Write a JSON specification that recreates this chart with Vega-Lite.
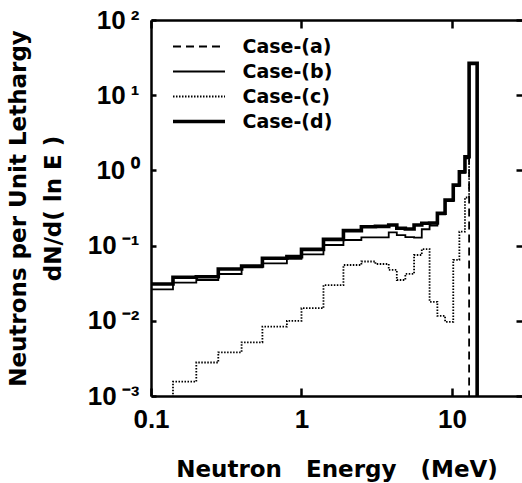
{
  "$schema": "https://vega.github.io/schema/vega-lite/v6.json",
  "autosize": "none",
  "padding": {"left": 151, "top": 20, "right": 0, "bottom": 87},
  "width": 371,
  "height": 376,
  "config": {
    "view": {"stroke": null},
    "axis": {"grid": false, "labelFlush": false, "domainColor": "black", "tickColor": "black", "domainWidth": 2.5, "tickWidth": 2.5, "labelColor": "black", "titleColor": "black"},
    "legend": {"orient": "none", "legendX": 38.5, "legendY": 17, "padding": 0, "symbolType": "M-4,0L4,0", "symbolSize": 169, "symbolStrokeColor": "black", "labelOffset": 34, "labelFont": "DejaVu Sans", "labelFontWeight": "bold", "labelFontSize": 19, "labelColor": "black", "rowPadding": 5, "title": null}
  },
  "datasets": {
    "spec": [
      {"case": "Case-(a)", "E": 12.0, "v": 0.0001},
      {"case": "Case-(a)", "E": 13.0, "v": 26.5},
      {"case": "Case-(a)", "E": 14.7, "v": 0.0001},
      {"case": "Case-(b)", "E": 0.1, "v": 0.0262},
      {"case": "Case-(b)", "E": 0.14, "v": 0.0321},
      {"case": "Case-(b)", "E": 0.2, "v": 0.0349},
      {"case": "Case-(b)", "E": 0.28, "v": 0.0419},
      {"case": "Case-(b)", "E": 0.4, "v": 0.0514},
      {"case": "Case-(b)", "E": 0.55, "v": 0.0581},
      {"case": "Case-(b)", "E": 0.8, "v": 0.0664},
      {"case": "Case-(b)", "E": 1.0, "v": 0.0766},
      {"case": "Case-(b)", "E": 1.4, "v": 0.1019},
      {"case": "Case-(b)", "E": 1.9, "v": 0.1187},
      {"case": "Case-(b)", "E": 2.5, "v": 0.129},
      {"case": "Case-(b)", "E": 3.1, "v": 0.129},
      {"case": "Case-(b)", "E": 3.8, "v": 0.150},
      {"case": "Case-(b)", "E": 4.3, "v": 0.138},
      {"case": "Case-(b)", "E": 4.9, "v": 0.130},
      {"case": "Case-(b)", "E": 5.6, "v": 0.128},
      {"case": "Case-(b)", "E": 6.3, "v": 0.165},
      {"case": "Case-(b)", "E": 7.1, "v": 0.185},
      {"case": "Case-(b)", "E": 8.0, "v": 0.26},
      {"case": "Case-(b)", "E": 9.0, "v": 0.39},
      {"case": "Case-(b)", "E": 10.2, "v": 0.62},
      {"case": "Case-(b)", "E": 11.2, "v": 0.93},
      {"case": "Case-(b)", "E": 12.2, "v": 1.45},
      {"case": "Case-(b)", "E": 13.0, "v": 26.0},
      {"case": "Case-(b)", "E": 14.7, "v": 0.0001},
      {"case": "Case-(c)", "E": 0.1, "v": 0.0001},
      {"case": "Case-(c)", "E": 0.14, "v": 0.00155},
      {"case": "Case-(c)", "E": 0.2, "v": 0.00279},
      {"case": "Case-(c)", "E": 0.28, "v": 0.00381},
      {"case": "Case-(c)", "E": 0.4, "v": 0.00518},
      {"case": "Case-(c)", "E": 0.55, "v": 0.00835},
      {"case": "Case-(c)", "E": 0.8, "v": 0.0100},
      {"case": "Case-(c)", "E": 1.0, "v": 0.0147},
      {"case": "Case-(c)", "E": 1.4, "v": 0.0299},
      {"case": "Case-(c)", "E": 1.9, "v": 0.0552},
      {"case": "Case-(c)", "E": 2.5, "v": 0.0615},
      {"case": "Case-(c)", "E": 3.1, "v": 0.0569},
      {"case": "Case-(c)", "E": 3.8, "v": 0.0475},
      {"case": "Case-(c)", "E": 4.3, "v": 0.0349},
      {"case": "Case-(c)", "E": 4.9, "v": 0.042},
      {"case": "Case-(c)", "E": 5.6, "v": 0.075},
      {"case": "Case-(c)", "E": 6.3, "v": 0.090},
      {"case": "Case-(c)", "E": 7.1, "v": 0.0179},
      {"case": "Case-(c)", "E": 8.0, "v": 0.0116},
      {"case": "Case-(c)", "E": 9.0, "v": 0.0097},
      {"case": "Case-(c)", "E": 10.2, "v": 0.0644},
      {"case": "Case-(c)", "E": 11.2, "v": 0.153},
      {"case": "Case-(c)", "E": 12.2, "v": 0.436},
      {"case": "Case-(c)", "E": 13.0, "v": 26.5},
      {"case": "Case-(c)", "E": 14.7, "v": 0.0001},
      {"case": "Case-(d)", "E": 0.1, "v": 0.0308},
      {"case": "Case-(d)", "E": 0.14, "v": 0.0379},
      {"case": "Case-(d)", "E": 0.2, "v": 0.0385},
      {"case": "Case-(d)", "E": 0.28, "v": 0.0489},
      {"case": "Case-(d)", "E": 0.4, "v": 0.0536},
      {"case": "Case-(d)", "E": 0.55, "v": 0.0678},
      {"case": "Case-(d)", "E": 0.8, "v": 0.0713},
      {"case": "Case-(d)", "E": 1.0, "v": 0.0891},
      {"case": "Case-(d)", "E": 1.4, "v": 0.121},
      {"case": "Case-(d)", "E": 1.9, "v": 0.158},
      {"case": "Case-(d)", "E": 2.5, "v": 0.178},
      {"case": "Case-(d)", "E": 3.1, "v": 0.180},
      {"case": "Case-(d)", "E": 3.8, "v": 0.188},
      {"case": "Case-(d)", "E": 4.3, "v": 0.170},
      {"case": "Case-(d)", "E": 4.9, "v": 0.166},
      {"case": "Case-(d)", "E": 5.6, "v": 0.188},
      {"case": "Case-(d)", "E": 6.3, "v": 0.198},
      {"case": "Case-(d)", "E": 7.1, "v": 0.200},
      {"case": "Case-(d)", "E": 8.0, "v": 0.269},
      {"case": "Case-(d)", "E": 9.0, "v": 0.404},
      {"case": "Case-(d)", "E": 10.2, "v": 0.64},
      {"case": "Case-(d)", "E": 11.2, "v": 0.96},
      {"case": "Case-(d)", "E": 12.2, "v": 1.52},
      {"case": "Case-(d)", "E": 13.0, "v": 26.5},
      {"case": "Case-(d)", "E": 14.7, "v": 0.0001}
    ]
  },
  "data": {"name": "spec"},
  "resolve": {"axis": {"x": "independent", "y": "independent"}},
  "layer": [
    {
      "transform": [{"filter": "datum.case != 'Case-(d)'"}],
      "mark": {"type": "line", "interpolate": "step-after", "clip": true, "color": "black", "strokeWidth": 1.8},
      "encoding": {
        "x": {"field": "E", "type": "quantitative",
              "scale": {"type": "log", "domain": [0.1, 29.2], "nice": false},
              "axis": {"orient": "bottom", "values": [0.1, 1, 10], "tickSize": -8, "labelPadding": 18,
                       "labelExpr": "datum.value < 0.5 ? '0.1' : datum.value < 5 ? '1' : '10'",
                       "labelFont": "Liberation Sans", "labelFontWeight": "bold", "labelFontSize": 26,
                       "title": "Neutron\u00a0\u00a0\u00a0Energy\u00a0\u00a0\u00a0(MeV)", "titleFont": "DejaVu Sans", "titleFontWeight": "bold", "titleFontSize": 23, "titlePadding": 26}},
        "y": {"field": "v", "type": "quantitative",
              "scale": {"type": "log", "domain": [0.001, 100], "nice": false},
              "axis": {"orient": "left", "values": [0.001, 0.01, 0.1, 1, 10, 100], "tickSize": -5, "labelPadding": 17,
                       "labelExpr": "datum.value > 50 ? '10\u2009²' : datum.value > 5 ? '10\u2009¹' : datum.value > 0.5 ? '10\u2009⁰' : datum.value > 0.05 ? '10\u2009⁻¹' : datum.value > 0.005 ? '10\u2009⁻²' : '10\u2009⁻³'",
                       "labelFont": "Liberation Sans", "labelFontWeight": "bold", "labelFontSize": 26,
                       "title": ["Neutrons per Unit Lethargy", "dN/d( ln E )"], "titleFont": "DejaVu Sans", "titleFontWeight": "bold", "titleFontSize": 23, "titleLineHeight": 35, "titlePadding": 22}},
        "strokeDash": {"field": "case", "type": "nominal",
                       "scale": {"domain": ["Case-(a)", "Case-(b)", "Case-(c)", "Case-(d)"], "range": [[8, 5], [1, 0], [1.5, 1.5], [1, 0]]},
                       "legend": {"encode": {"symbols": {"update": {"strokeWidth": {"signal": "datum.label == 'Case-(d)' ? 3.6 : 1.8"}}}}}}
      }
    },
    {
      "transform": [{"filter": "datum.case == 'Case-(d)'"}],
      "mark": {"type": "line", "interpolate": "step-after", "clip": true, "color": "black", "strokeWidth": 3.6},
      "encoding": {
        "x": {"field": "E", "type": "quantitative",
              "scale": {"type": "log", "domain": [0.1, 29.2], "nice": false},
              "axis": {"orient": "top", "values": [0.1, 1, 10], "tickSize": -8, "labels": false, "title": null}},
        "y": {"field": "v", "type": "quantitative",
              "scale": {"type": "log", "domain": [0.001, 100], "nice": false},
              "axis": {"orient": "right", "values": [0.001, 0.01, 0.1, 1, 10, 100], "tickSize": -6, "labels": false, "domain": false, "title": null}},
        "strokeDash": {"field": "case", "type": "nominal",
                       "scale": {"domain": ["Case-(a)", "Case-(b)", "Case-(c)", "Case-(d)"], "range": [[8, 5], [1, 0], [1.5, 1.5], [1, 0]]},
                       "legend": {"encode": {"symbols": {"update": {"strokeWidth": {"signal": "datum.label == 'Case-(d)' ? 3.6 : 1.8"}}}}}}
      }
    }
  ]
}
